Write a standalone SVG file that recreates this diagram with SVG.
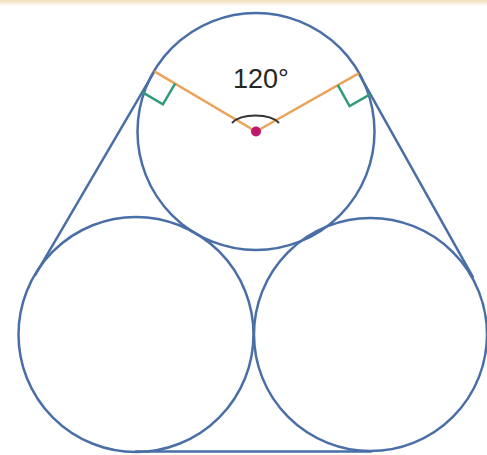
<svg xmlns="http://www.w3.org/2000/svg" width="487" height="455" viewBox="0 0 487 455">
  <defs>
    <linearGradient id="band" x1="0" y1="0" x2="0" y2="1">
      <stop offset="0" stop-color="#f1ddb8"/>
      <stop offset="1" stop-color="#ffffff"/>
    </linearGradient>
    <style>
      .circ { fill: none; stroke: #4a6ea6; stroke-width: 2.5; }
      .tan { fill: none; stroke: #4a6ea6; stroke-width: 2.5; stroke-linecap: round; }
      .rad { fill: none; stroke: #eba35a; stroke-width: 2.5; }
      .right { fill: none; stroke: #2f9b7a; stroke-width: 2.5; }
      .arc { fill: none; stroke: #333333; stroke-width: 2; }
      .lbl { font-family: "Liberation Sans", Arial, sans-serif; font-size: 27px; fill: #262626; }
    </style>
  </defs>
  <rect x="0" y="0" width="487" height="455" fill="#ffffff"/>
  <rect x="0" y="0" width="487" height="6" fill="url(#band)"/>

  <g id="connectors">
    <line class="tan" x1="154.4" y1="71.4" x2="35.3" y2="274.9"/>
    <line class="tan" x1="358.7" y1="73.3" x2="472.8" y2="276.8"/>
    <line class="tan" x1="136" y1="451.5" x2="371" y2="451.5"/>
  </g>

  <g id="circle-top">
    <circle class="circ" cx="256" cy="131.5" r="118.5"/>
  </g>
  <g id="circle-bottom-left">
    <circle class="circ" cx="136" cy="334.5" r="117.5"/>
  </g>
  <g id="circle-bottom-right">
    <circle class="circ" cx="370.5" cy="334.5" r="116.5"/>
  </g>

  <g id="radii">
    <line class="rad" x1="256" y1="131.5" x2="154.4" y2="71.4"/>
    <line class="rad" x1="256" y1="131.5" x2="358.7" y2="73.3"/>
  </g>

  <g id="right-angle-left">
    <polyline class="right" points="175.1,83.6 162.9,104.3 142.2,92.1"/>
  </g>
  <g id="right-angle-right">
    <polyline class="right" points="337.8,85.1 349.6,106.0 370.5,94.2"/>
  </g>

  <g id="angle">
    <path class="arc" d="M232,123 A26 13 0 0 1 279,123"/>
    <text class="lbl" x="233" y="88">120°</text>
  </g>

  <g id="center">
    <circle cx="256" cy="131.5" r="5" fill="#c0176a"/>
  </g>
</svg>
